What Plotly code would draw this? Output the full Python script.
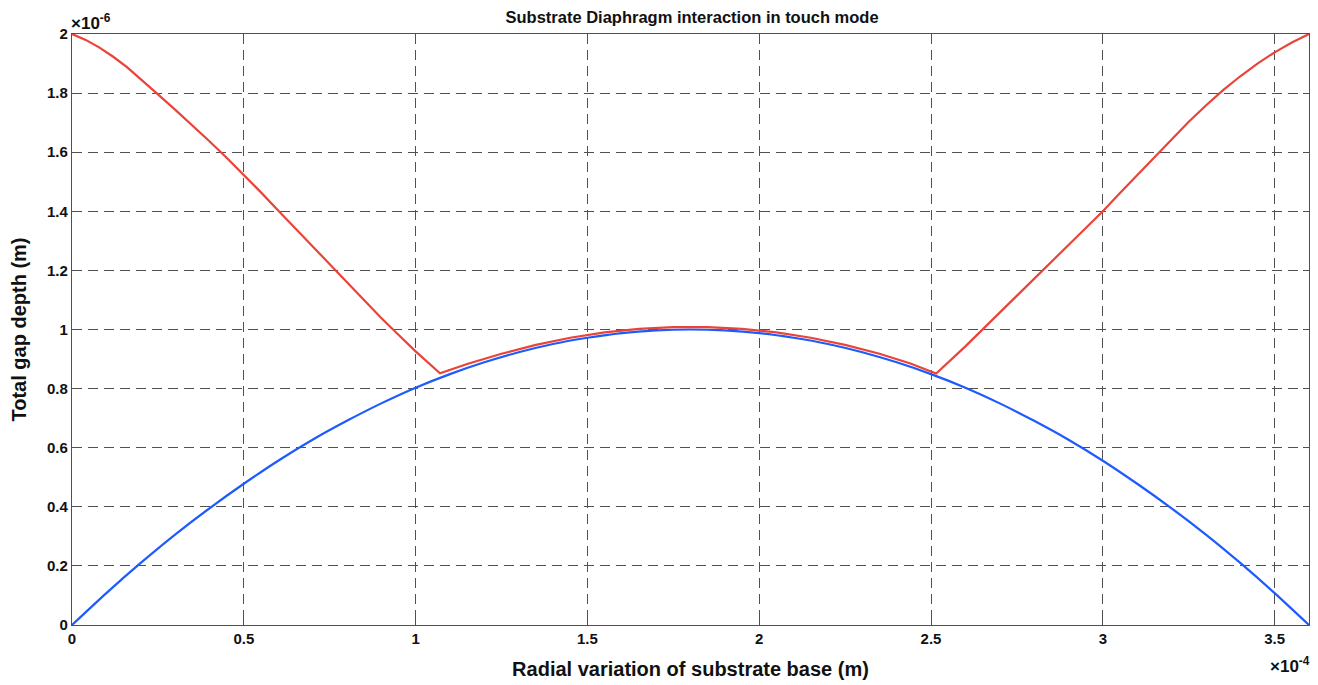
import plotly.graph_objects as go

# x in units of 1e-4 m, y in units of 1e-6 m
diaphragm_x = [0.0, 0.1, 0.2, 0.3, 0.4, 0.5, 0.6, 0.7, 0.8, 0.9, 1.0, 1.1, 1.2, 1.3, 1.4,
               1.5, 1.6, 1.7, 1.8, 1.9, 2.0, 2.1, 2.2, 2.3, 2.4, 2.5, 2.6, 2.7, 2.8,
               2.9, 3.0, 3.1, 3.2, 3.3, 3.4, 3.5, 3.6]
diaphragm_y = [0.0, 0.108, 0.210, 0.306, 0.395, 0.478, 0.556, 0.627, 0.691, 0.750, 0.803,
               0.849, 0.889, 0.923, 0.951, 0.972, 0.988, 0.997, 1.000, 0.997, 0.988,
               0.972, 0.951, 0.923, 0.889, 0.849, 0.803, 0.750, 0.691, 0.627, 0.556,
               0.478, 0.395, 0.306, 0.210, 0.108, 0.0]

substrate_x = [0.0, 0.04, 0.08, 0.12, 0.16, 0.2, 0.246, 0.3, 0.35, 0.4, 0.45, 0.5, 0.55,
               0.6, 0.65, 0.7, 0.75, 0.8, 0.85, 0.9, 0.95, 1.0, 1.071,
               1.15, 1.25, 1.35, 1.45, 1.55, 1.65, 1.75, 1.85, 1.95, 2.05, 2.15, 2.25,
               2.35, 2.44, 2.515,
               2.6, 2.7, 2.8, 2.9, 3.0, 3.05, 3.1, 3.15, 3.2, 3.25, 3.3, 3.35, 3.4,
               3.45, 3.5, 3.55, 3.6]
substrate_y = [2.0, 1.980, 1.954, 1.923, 1.888, 1.848, 1.8, 1.744, 1.691, 1.637, 1.581,
               1.523, 1.464, 1.403, 1.342, 1.281, 1.219, 1.158, 1.098, 1.039, 0.982,
               0.926, 0.852,
               0.883, 0.918, 0.948, 0.972, 0.990, 1.002, 1.008, 1.008, 1.002, 0.990,
               0.972, 0.948, 0.918, 0.885, 0.851,
               0.943, 1.057, 1.171, 1.285, 1.400, 1.462, 1.523, 1.584, 1.645, 1.703,
               1.758, 1.810, 1.857, 1.900, 1.938, 1.971, 2.0]

x_ticks = [0, 0.5, 1, 1.5, 2, 2.5, 3, 3.5]
x_tick_text = ["0", "0.5", "1", "1.5", "2", "2.5", "3", "3.5"]
y_ticks = [0, 0.2, 0.4, 0.6, 0.8, 1.0, 1.2, 1.4, 1.6, 1.8, 2.0]
y_tick_text = ["0", "0.2", "0.4", "0.6", "0.8", "1", "1.2", "1.4", "1.6", "1.8", "2"]

FONT = "Liberation Sans, Arial, sans-serif"
INK = "#111111"

fig = go.Figure()
fig.add_trace(go.Scatter(x=diaphragm_x, y=diaphragm_y, mode="lines",
                         line=dict(color="#1E5BFF", width=2.2, shape="spline", smoothing=0.6),
                         showlegend=False, cliponaxis=False))
fig.add_trace(go.Scatter(x=substrate_x, y=substrate_y, mode="lines",
                         line=dict(color="#EA4339", width=2.2),
                         showlegend=False, cliponaxis=False))

axis_common = dict(showgrid=True, gridcolor="#505050", gridwidth=1.3, griddash="10px,6px",
                   showline=True, linecolor="#505050", linewidth=1.3, mirror="ticks",
                   ticks="inside", ticklen=6, tickcolor="#505050", zeroline=False,
                   automargin=False,
                   tickfont=dict(family=FONT, size=15, color=INK, weight="bold"))

# page body adds an 8px offset, so the figure is sized 1310x677
fig.update_layout(
    width=1310, height=677,
    paper_bgcolor="white", plot_bgcolor="white",
    margin=dict(l=64, r=9, t=26, b=60),
    title=dict(text="Substrate Diaphragm interaction in touch mode",
               x=0.5222, xanchor="center", y=0.987, yanchor="middle",
               font=dict(family=FONT, size=16.5, color=INK, weight="bold")),
    xaxis=dict(range=[0, 3.6], tickvals=x_ticks, ticktext=x_tick_text,
               title=dict(text="Radial variation of substrate base (m)", standoff=15,
                          font=dict(family=FONT, size=20, color=INK, weight="bold")),
               **axis_common),
    yaxis=dict(range=[0, 2.0], tickvals=y_ticks, ticktext=y_tick_text,
               title=dict(text="Total gap depth (m)", standoff=14,
                          font=dict(family=FONT, size=20, color=INK, weight="bold")),
               **axis_common),
    annotations=[
        dict(text="×10<sup>-6</sup>", xref="paper", yref="paper", x=0, y=1.0,
             xanchor="left", yanchor="bottom", showarrow=False, xshift=-3, yshift=-1,
             font=dict(family=FONT, size=17, color=INK, weight="bold")),
        dict(text="×10<sup>-4</sup>", xref="paper", yref="paper", x=1.0, y=0,
             xanchor="right", yanchor="top", showarrow=False, xshift=3, yshift=-27,
             font=dict(family=FONT, size=17, color=INK, weight="bold")),
    ],
)

fig.write_html("out.html")
